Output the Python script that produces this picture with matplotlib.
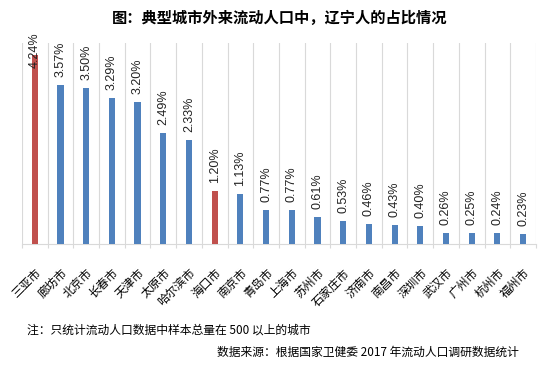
import numpy as np
import matplotlib.pyplot as plt

plt.rcParams['font.family'] = ['Liberation Sans', 'Noto Sans CJK SC', 'DejaVu Sans']

cities = ["三亚市", "廊坊市", "北京市", "长春市", "天津市", "太原市", "哈尔滨市", "海口市",
          "南京市", "青岛市", "上海市", "苏州市", "石家庄市", "济南市", "南昌市", "深圳市",
          "武汉市", "广州市", "杭州市", "福州市"]
share = [4.24, 3.57, 3.50, 3.29, 3.20, 2.49, 2.33, 1.20, 1.13, 0.77, 0.77, 0.61, 0.53,
         0.46, 0.43, 0.40, 0.26, 0.25, 0.24, 0.23]
highlight = ["三亚市", "海口市"]

blue = "#4F81BD"
red = "#C0504D"
colors = [red if c in highlight else blue for c in cities]

fig = plt.figure(figsize=(5.48, 3.71), dpi=100)
ax = fig.add_axes([0.040, 0.342, 0.938, 0.542])

x = np.arange(len(cities))
ax.bar(x, share, width=0.24, color=colors, zorder=3)

ymax = 4.52
ax.set_ylim(0, ymax)
ax.set_xlim(-0.5, len(cities) - 0.5)

# value labels, rotated; the tallest one gets pushed into its bar like excel does
for xi, v in zip(x, share):
    ypos = min(v + 0.18, ymax - 0.57)
    ax.text(xi, ypos, f"{v:.2f}%", rotation=90, ha='center', va='bottom',
            fontsize=9, color='#222222', zorder=4)

ax.set_xticks(x)
ax.set_xticklabels(cities, rotation=45, ha='right', va='top', rotation_mode='anchor',
                   fontsize=8.5, family=['Noto Sans CJK SC', 'DejaVu Sans'])
ax.tick_params(axis='x', which='major', length=0, pad=16)
ax.set_xticks(np.arange(-0.5, len(cities), 1), minor=True)
ax.tick_params(axis='x', which='minor', length=3, color='#D9D9D9', width=0.8)
ax.grid(axis='x', which='minor', color='#D9D9D9', linewidth=0.8, zorder=0)
ax.set_yticks([])

for s in ['top', 'right', 'left']:
    ax.spines[s].set_visible(False)
ax.spines['bottom'].set_color('#D9D9D9')

fig.text(0.51, 0.951, "图：典型城市外来流动人口中，辽宁人的占比情况", ha='center', va='center',
         fontsize=11, fontweight='bold', family=['Noto Sans CJK SC', 'DejaVu Sans'])
fig.text(0.049, 0.110, "注：只统计流动人口数据中样本总量在 500 以上的城市", ha='left', va='center',
         fontsize=8.5, family=['Noto Sans CJK SC', 'DejaVu Sans'])
fig.text(0.947, 0.051, "数据来源：根据国家卫健委 2017 年流动人口调研数据统计", ha='right', va='center',
         fontsize=8.5, family=['Noto Sans CJK SC', 'DejaVu Sans'])

fig.savefig("out.png", dpi=100)
